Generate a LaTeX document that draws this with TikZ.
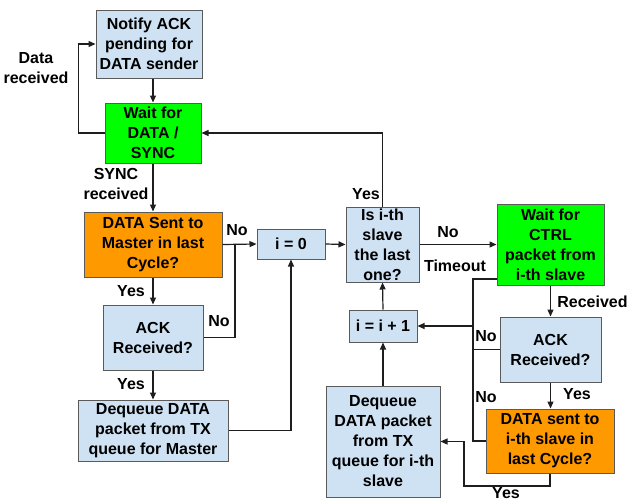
\documentclass[tikz,border=0pt]{standalone}
\usepackage{fontspec}
\setmainfont{Liberation Sans}
\usetikzlibrary{arrows.meta,calc}
\definecolor{boxblue}{HTML}{CFE2F3}
\definecolor{boxgreen}{HTML}{00FF00}
\definecolor{boxorange}{HTML}{FF9900}
\definecolor{boxedge}{HTML}{5A5A5A}
\definecolor{wire}{HTML}{1E1E1E}
\begin{document}
\begin{tikzpicture}[x=1pt,y=-1pt,
  txt/.style={font=\fontsize{16}{20}\selectfont\bfseries},
  box/.style={txt, draw=boxedge, line width=1pt, inner sep=0pt, align=center},
  bluebox/.style={box, fill=boxblue},
  greenbox/.style={box, fill=boxgreen},
  orangebox/.style={box, fill=boxorange},
  lbl/.style={txt, inner sep=0pt, align=center},
  wireline/.style={draw=wire, line width=1.2pt},
  arr/.style={wireline, -{Triangle[length=7pt,width=6pt]}}
]
\useasboundingbox (0,0) rectangle (629,501);
\clip (0,0) rectangle (629,501);

% ---- master side ----
\node[bluebox, minimum width=106pt, minimum height=68pt] (notify) at (149,44)
  {Notify ACK\\pending for\\DATA sender};
\node[greenbox, minimum width=96pt, minimum height=60pt] (waitdata) at (153,133)
  {Wait for\\DATA /\\SYNC};
\node[orangebox, minimum width=138pt, minimum height=65pt] (sentmaster) at (153,244.5)
  {DATA Sent to\\Master in last\\Cycle?};
\node[bluebox, minimum width=100pt, minimum height=65pt] (ackm) at (153,337.5)
  {ACK\\Received?};
\node[bluebox, minimum width=150pt, minimum height=61pt] (deqm) at (153,430.5)
  {Dequeue DATA\\packet from TX\\queue for Master};

% ---- slave loop ----
\node[bluebox, minimum width=68pt, minimum height=30pt] (izero) at (291,244) {i = 0};
\node[bluebox, minimum width=73pt, minimum height=75pt] (islast) at (382.5,244.5)
  {Is i-th\\slave\\the last\\one?};
\node[greenbox, minimum width=107pt, minimum height=81pt] (waitctrl) at (550.5,244.5)
  {Wait for\\CTRL\\packet from\\i-th slave};
\node[bluebox, minimum width=68pt, minimum height=32pt] (incr) at (383,326) {i = i + 1};
\node[bluebox, minimum width=101pt, minimum height=65pt] (acks) at (550.5,349.5)
  {ACK\\Received?};
\node[orangebox, minimum width=128pt, minimum height=64pt] (sents) at (550,441)
  {DATA sent to\\i-th slave in\\last Cycle?};
\node[bluebox, minimum width=114pt, minimum height=111pt] (deqs) at (383,441.5)
  {Dequeue\\DATA packet\\from TX\\queue for i-th\\slave};

% ---- junction points ----
\coordinate (jm) at (235,244);
\coordinate (busTop) at (473,279);
\coordinate (busBot) at (473,441);
\coordinate (yesBot) at (464,486);

% ---- connectors, master side ----
\draw[arr] (notify.south -| waitdata.north) -- (waitdata.north);
\draw[arr] (waitdata.west) -- ++(-26,0) |- (notify.west);
\draw[arr] (waitdata.south) -- (sentmaster.north);
\draw[arr] (sentmaster.east) -- (izero.west);
\draw[wireline] (ackm.east) -| (jm);
\draw[arr] (sentmaster.south) -- (ackm.north);
\draw[arr] (ackm.south) -- (deqm.north);
\draw[arr] (deqm.east) -| (izero.south);

% ---- connectors, slave loop ----
\draw[arr] (izero.east) -- (islast.west);
\draw[arr] (islast.north) |- (waitdata.east);
\draw[arr] (islast.east) -- (waitctrl.west);
\draw[wireline] (waitctrl.west |- busTop) -- (busTop) -- (busBot) -- (sents.west);
\draw[wireline] (acks.west) -- (acks.west -| busTop);
\draw[arr] (busTop |- incr.east) -- (incr.east);
\draw[arr] (waitctrl.south) -- (acks.north);
\draw[arr] (acks.south) -- (acks.south |- sents.north);
\draw[arr] (sents.south) |- (yesBot) |- (deqs.east);
\draw[arr] (deqs.north) -- (incr.south);
\draw[arr] (incr.north) -- (islast.south);

% ---- connector labels ----
\node[lbl] (lDataRx) at (36,68) {Data\\received};
\node[lbl] (lSyncRx) at (116,184) {SYNC\\received};
\node[lbl] (lNoA) at (237,230) {No};
\node[lbl] (lYesA) at (131,291) {Yes};
\node[lbl] (lNoB) at (219,321) {No};
\node[lbl] (lYesB) at (131,384) {Yes};
\node[lbl] (lYesC) at (366,194) {Yes};
\node[lbl] (lNoC) at (448,232) {No};
\node[lbl] (lTimeout) at (455,266) {Timeout};
\node[lbl] (lRecv) at (592.5,302) {Received};
\node[lbl] (lNoD) at (486,336) {No};
\node[lbl] (lNoE) at (486,397) {No};
\node[lbl] (lYesD) at (577,394) {Yes};
\node[lbl] (lYesE) at (506,493.5) {Yes};
\end{tikzpicture}
\end{document}
